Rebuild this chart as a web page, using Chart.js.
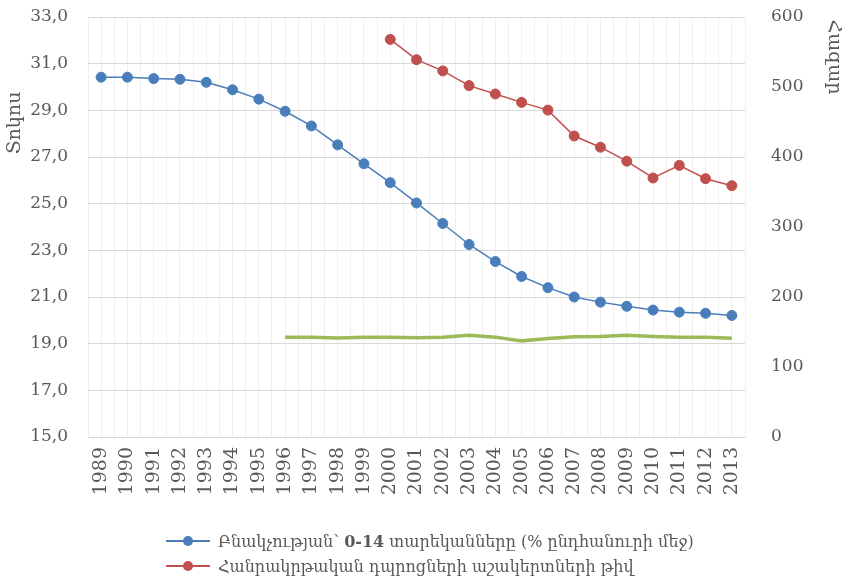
<!DOCTYPE html>
<html>
<head>
<meta charset="utf-8">
<script src="https://cdn.jsdelivr.net/npm/chart.js@4.4.1/dist/chart.umd.min.js"></script>
<style>
	body { margin: 0; background: #fff; }
	#wrap { position: relative; width: 842px; height: 576px; }
	#legend { position: absolute; left: 166px; top: 529px; font-family: "DejaVu Serif", "Noto Sans", "DejaVu Sans", serif; font-size: 16px; color: #595959; }
	.item { height: 25px; line-height: 25px; white-space: nowrap; }
	.mark { display: inline-block; position: relative; width: 44px; height: 25px; vertical-align: top; margin-right: 8px; }
	.mark .ln { position: absolute; left: 0; right: 0; top: 11px; height: 2px; }
	.mark .dot { position: absolute; left: 17px; top: 7px; width: 10px; height: 10px; border-radius: 50%; }
</style>
</head>
<body>
<div id="wrap">
	<canvas id="myChart" width="842" height="576"></canvas>
	<div id="legend">
		<div class="item"><span class="mark"><span class="ln" style="background:#4a7ebb"></span><span class="dot" style="background:#4a7ebb"></span></span>Բնակչության՝ <b>0-14</b> տարեկանները (% ընդհանուրի մեջ)</div>
		<div class="item"><span class="mark"><span class="ln" style="background:#c0504d"></span><span class="dot" style="background:#c0504d"></span></span>Հանրակրթական դպրոցների աշակերտների թիվ</div>
	</div>
</div>
<script>
var years = [1989, 1990, 1991, 1992, 1993, 1994, 1995, 1996, 1997, 1998, 1999, 2000, 2001,
	2002, 2003, 2004, 2005, 2006, 2007, 2008, 2009, 2010, 2011, 2012, 2013];

// % of population aged 0-14 (left axis)
var children = [30.42, 30.42, 30.36, 30.33, 30.2, 29.88, 29.48, 28.96, 28.33, 27.52, 26.71, 25.9,
	25.03, 24.15, 23.25, 22.52, 21.88, 21.4, 21.0, 20.78, 20.6, 20.44, 20.35, 20.3, 20.21];

// number of school pupils, thousands (right axis)
var pupils = [null, null, null, null, null, null, null, null, null, null, null, 568, 539, 523,
	502, 490, 478, 467, 430, 414, 394, 370, 388, 369, 359];

var flat = [null, null, null, null, null, null, null, 19.28, 19.28, 19.24, 19.28, 19.28, 19.25,
	19.28, 19.36, 19.28, 19.12, 19.22, 19.3, 19.31, 19.36, 19.31, 19.28, 19.28, 19.23];

var leftTicks = { min: 15, max: 33, step: 2 };
var rightTicks = { min: 0, max: 600, step: 100 };
var leftTitle = "Տոկոս";
var rightTitle = "Հազար";

function toPoints(values) {
	return years.map(function (y, i) {
		return { x: y, y: values[i] };
	});
}

var gray = "#595959";
var tickFont = { family: "'DejaVu Serif', serif", size: 17 };

var axisTitles = {
	id: "axisTitles",
	afterDraw: function (chart) {
		var ctx = chart.ctx;
		ctx.save();
		ctx.fillStyle = gray;
		ctx.font = "19px 'DejaVu Serif', 'Noto Sans', 'DejaVu Sans', serif";
		ctx.textAlign = "center";
		ctx.textBaseline = "middle";
		ctx.translate(15, 123);
		ctx.rotate(-Math.PI / 2);
		ctx.fillText(leftTitle, 0, 0);
		ctx.restore();
		ctx.save();
		ctx.fillStyle = gray;
		ctx.font = "19px 'DejaVu Serif', 'Noto Sans', 'DejaVu Sans', serif";
		ctx.textAlign = "center";
		ctx.textBaseline = "middle";
		ctx.translate(834, 57);
		ctx.rotate(Math.PI / 2);
		ctx.fillText(rightTitle, 0, 0);
		ctx.restore();
	}
};

// the vertical axes reserve tick padding above the top label; trim it back
function fitVertical(width) {
	return function (s) {
		s.width = width;
		s.paddingTop = 10;
		s.paddingBottom = 10;
	};
}

var chart = new Chart(document.querySelector("#myChart").getContext("2d"), {
	type: "line",
	data: {
		datasets: [
			{
				label: "Բնակչության՝ 0-14 տարեկանները (% ընդհանուրի մեջ)",
				data: toPoints(children),
				yAxisID: "y",
				borderColor: "#4a7ebb",
				backgroundColor: "#4a7ebb",
				borderWidth: 1.5,
				pointRadius: 5,
				pointBorderWidth: 1,
				pointBorderColor: "#4a7ebb",
			},
			{
				label: "Հանրակրթական դպրոցների աշակերտների թիվ",
				data: toPoints(pupils),
				yAxisID: "y2",
				borderColor: "#c0504d",
				backgroundColor: "#c0504d",
				borderWidth: 1.5,
				pointRadius: 5,
				pointBorderWidth: 1,
				pointBorderColor: "#c0504d",
			},
			{
				label: "",
				data: toPoints(flat),
				yAxisID: "y",
				borderColor: "#9bbb59",
				borderWidth: 3.5,
				pointRadius: 0,
			},
		],
	},
	options: {
		responsive: false,
		animation: false,
		events: [],
		layout: { padding: { top: 17, bottom: 70, left: 0, right: 0 } },
		plugins: {
			legend: { display: false },
			tooltip: { enabled: false },
		},
		scales: {
			x: {
				type: "linear",
				min: years[0] - 0.5,
				max: years[years.length - 1] + 0.5,
				afterFit: function (s) { s.height = 69; },
				grid: { color: "#efefef", drawTicks: false },
				border: { color: "#d9d9d9" },
				ticks: {
					stepSize: 0.5,
					autoSkip: false,
					minRotation: 90,
					maxRotation: 90,
					padding: 10,
					color: gray,
					font: { family: "'DejaVu Serif', serif", size: 19 },
					callback: function (v) {
						return v % 1 === 0 ? String(v) : "";
					},
				},
			},
			y: {
				position: "left",
				min: leftTicks.min,
				max: leftTicks.max,
				afterFit: fitVertical(88),
				grid: { color: "#d9d9d9", drawTicks: false },
				border: { display: false },
				ticks: {
					stepSize: leftTicks.step,
					padding: 20,
					color: gray,
					font: tickFont,
					callback: function (v) {
						return v.toFixed(1).replace(".", ",");
					},
				},
			},
			y2: {
				position: "right",
				min: rightTicks.min,
				max: rightTicks.max,
				afterFit: fitVertical(97),
				grid: { display: false },
				border: { display: false },
				ticks: {
					stepSize: rightTicks.step,
					padding: 18,
					color: gray,
					font: tickFont,
				},
			},
		},
	},
	plugins: [axisTitles],
});
</script>
</body>
</html>
